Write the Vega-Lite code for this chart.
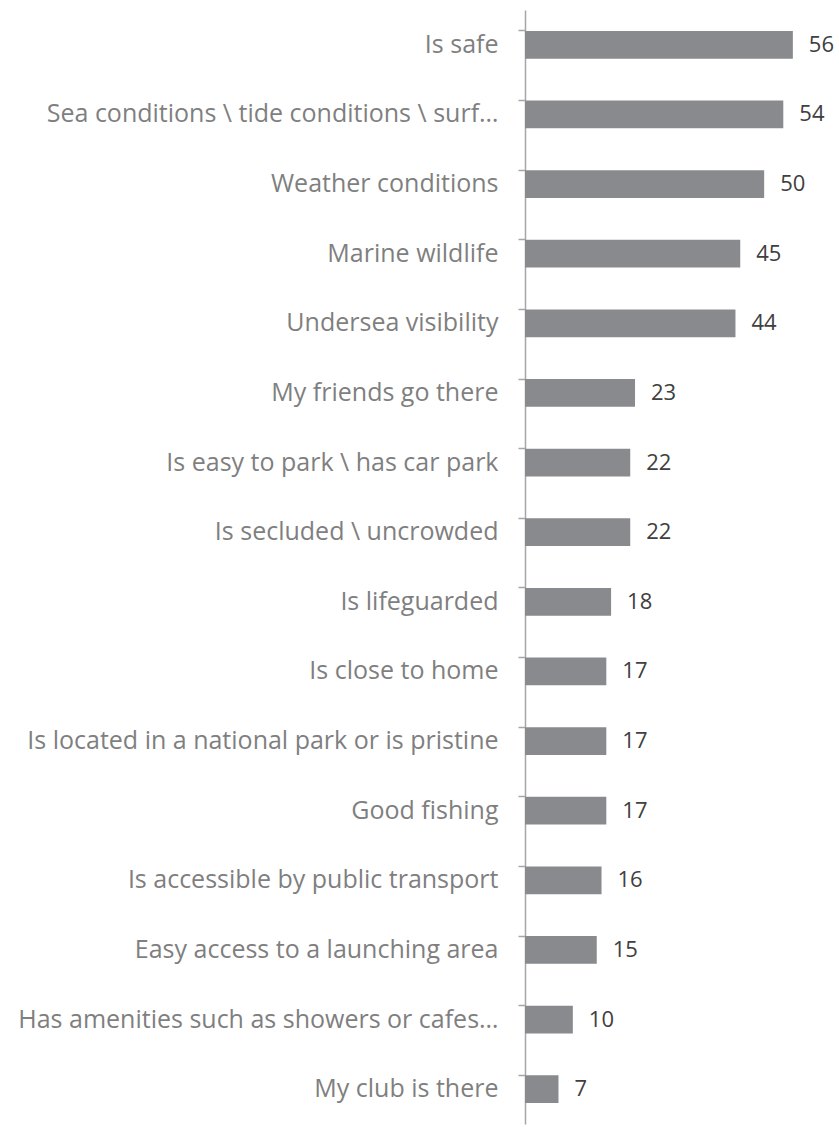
{
  "$schema": "https://vega.github.io/schema/vega-lite/v6.json",
  "autosize": "none",
  "width": 287,
  "height": 1114,
  "padding": {"left": 525, "top": 10, "right": 27, "bottom": 3},
  "background": "white",
  "config": {"view": {"stroke": null}, "font": "Open Sans"},
  "data": {"values": [
    {"reason": "Is safe", "value": 56},
    {"reason": "Sea conditions \\ tide conditions \\ surf…", "value": 54},
    {"reason": "Weather conditions", "value": 50},
    {"reason": "Marine wildlife", "value": 45},
    {"reason": "Undersea visibility", "value": 44},
    {"reason": "My friends go there", "value": 23},
    {"reason": "Is easy to park \\ has car park", "value": 22},
    {"reason": "Is secluded \\ uncrowded", "value": 22},
    {"reason": "Is lifeguarded", "value": 18},
    {"reason": "Is close to home", "value": 17},
    {"reason": "Is located in a national park or is pristine", "value": 17},
    {"reason": "Good fishing", "value": 17},
    {"reason": "Is accessible by public transport", "value": 16},
    {"reason": "Easy access to a launching area", "value": 15},
    {"reason": "Has amenities such as showers or cafes…", "value": 10},
    {"reason": "My club is there", "value": 7}
  ]},
  "encoding": {
    "y": {"field": "reason", "type": "nominal", "sort": null, "title": null,
      "scale": {"paddingInner": 0.6, "paddingOuter": 0.3},
      "axis": {"bandPosition": 0, "domainColor": "#a6a6a6", "domainWidth": 1.5, "tickColor": "#a6a6a6", "tickWidth": 1.5, "tickSize": 7,
        "labelColor": "#7f7f7f", "labelFontSize": 25, "labelPadding": 20, "labelLimit": 700, "labelFont": "Open Sans"}},
    "x": {"field": "value", "type": "quantitative", "scale": {"domain": [0, 60]}, "axis": null}
  },
  "layer": [
    {"mark": {"type": "bar", "color": "#898a8e"}},
    {"mark": {"type": "text", "align": "left", "dx": 16, "fontSize": 22, "color": "#404040", "font": "Open Sans"},
     "encoding": {"text": {"field": "value", "type": "quantitative"}}}
  ]
}
